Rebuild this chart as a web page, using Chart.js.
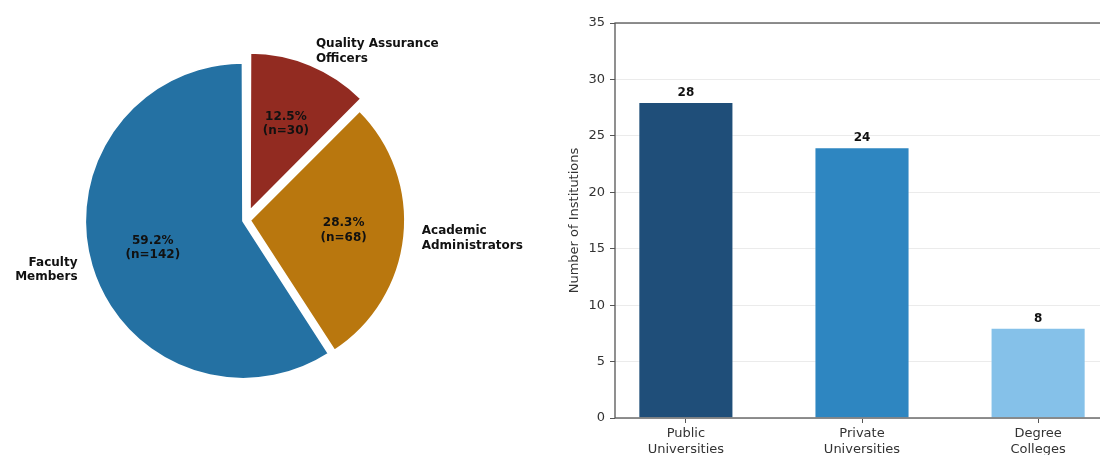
<!DOCTYPE html>
<html>
<head>
<meta charset="utf-8">
<title>Respondents and institutions</title>
<script src="https://cdn.jsdelivr.net/npm/chart.js"></script>
<style>
  html, body { margin: 0; padding: 0; background: #fff; overflow: hidden; }
  body { width: 1100px; height: 455px; position: relative; }
  #pieChart { position: absolute; left: 0; top: 0; }
  #barChart { position: absolute; left: 563px; top: 0; }
</style>
</head>
<body>
<canvas id="pieChart" width="560" height="440"></canvas>
<canvas id="barChart" width="557" height="455"></canvas>
<script>
// respondents, listed clockwise from 12 o'clock
const roleLabels = [['Quality Assurance', 'Officers'], ['Academic', 'Administrators'], ['Faculty', 'Members']];
const roleCounts = [30, 68, 142];

// institutions taking part
const institutionLabels = [['Public', 'Universities'], ['Private', 'Universities'], ['Degree', 'Colleges']];
const institutionCounts = [28, 24, 8];

const FONT = '"DejaVu Sans", "Liberation Sans", sans-serif';

function drawLines(ctx, lines, x, y, lineHeight) {
  const top = y - (lines.length - 1) * lineHeight / 2;
  lines.forEach((line, i) => ctx.fillText(line, x, top + i * lineHeight));
}

// percentage inside each wedge, role name outside it
const pieLabels = {
  id: 'pieLabels',
  afterDatasetsDraw(chart) {
    const ctx = chart.ctx;
    const meta = chart.getDatasetMeta(0);
    const total = roleCounts.reduce((a, b) => a + b, 0);
    ctx.save();
    ctx.font = 'bold 12px ' + FONT;
    ctx.fillStyle = '#111';
    ctx.textBaseline = 'middle';
    meta.data.forEach((arc, i) => {
      const p = arc.getProps(['x', 'y', 'startAngle', 'endAngle', 'outerRadius'], true);
      const mid = (p.startAngle + p.endAngle) / 2;
      const cos = Math.cos(mid);
      const sin = Math.sin(mid);
      const shift = (arc.options.offset || 0) / 4;
      const ox = p.x + cos * shift;
      const oy = p.y + sin * shift;
      const r = p.outerRadius + 2;

      const pct = (roleCounts[i] / total * 100).toFixed(1) + '%';
      ctx.textAlign = 'center';
      drawLines(ctx, [pct, '(n=' + roleCounts[i] + ')'], ox + cos * r * 0.6, oy + sin * r * 0.6, 14.4);

      ctx.textAlign = cos >= 0 ? 'left' : 'right';
      drawLines(ctx, roleLabels[i], ox + cos * r * 1.1, oy + sin * r * 1.1, 14.4);
    });
    ctx.restore();
  }
};

var pieCtx = document.getElementById('pieChart').getContext('2d');
var pieChart = new Chart(pieCtx, {
  type: 'pie',
  data: {
    labels: roleLabels.map(l => l.join(' ')),
    datasets: [{
      data: roleCounts,
      backgroundColor: ['#922b21', '#b9770e', '#2471a3'],
      borderColor: '#fff',
      borderWidth: 2,
      offset: [40, 16, 12],
      radius: 155,
    }]
  },
  options: {
    responsive: false,
    animation: false,
    // keep the pie centred in the left 492px, leave room for the labels
    layout: { padding: { left: 0, top: 0, bottom: 0, right: 68 } },
    plugins: {
      legend: { display: false },
      tooltip: { enabled: false }
    }
  },
  plugins: [pieLabels]
});

// full box round the plot, drawn over the bars like the axis spines
const axesFrame = {
  id: 'axesFrame',
  afterDatasetsDraw(chart) {
    const { ctx, chartArea: a } = chart;
    ctx.save();
    ctx.strokeStyle = '#555';
    ctx.lineWidth = 1.3;
    ctx.strokeRect(a.left, a.top, a.right - a.left, a.bottom - a.top);
    ctx.restore();
  }
};

const barValues = {
  id: 'barValues',
  afterDatasetsDraw(chart) {
    const ctx = chart.ctx;
    ctx.save();
    ctx.font = 'bold 12px ' + FONT;
    ctx.fillStyle = '#111';
    ctx.textAlign = 'center';
    ctx.textBaseline = 'alphabetic';
    chart.getDatasetMeta(0).data.forEach((bar, i) => {
      ctx.fillText(String(institutionCounts[i]), bar.x, bar.y - 6);
    });
    ctx.restore();
  }
};

var barCtx = document.getElementById('barChart').getContext('2d');
var barChart = new Chart(barCtx, {
  type: 'bar',
  data: {
    datasets: [{
      data: institutionCounts.map((v, i) => ({ x: i, y: v })),
      backgroundColor: ['#1f4e79', '#2e86c1', '#85c1e9'],
      borderColor: 'rgba(255, 255, 255, 0.5)',
      borderWidth: 1,
      barPercentage: 0.54,
      categoryPercentage: 1,
    }]
  },
  options: {
    responsive: false,
    animation: false,
    layout: { padding: { top: 23, right: 11, left: 0, bottom: 0 } },
    plugins: {
      legend: { display: false },
      tooltip: { enabled: false }
    },
    scales: {
      x: {
        type: 'linear',
        offset: false,
        min: -0.4025,
        max: 2.4025,
        afterBuildTicks: (axis) => { axis.ticks = institutionLabels.map((l, i) => ({ value: i })); },
        afterFit: (axis) => { axis.height = 37; },
        border: { display: false },
        grid: { offset: false, drawOnChartArea: false, color: '#555', tickColor: '#555', tickLength: 5 },
        ticks: {
          callback: (value) => institutionLabels[value],
          autoSkip: false,
          maxRotation: 0,
          padding: 3,
          color: '#333',
          font: { family: FONT, size: 13 }
        }
      },
      y: {
        min: 0,
        max: 35,
        afterFit: (axis) => { axis.width = 52; },
        border: { display: false },
        grid: { color: '#ebebeb', tickColor: '#555', tickLength: 5 },
        ticks: {
          stepSize: 5,
          padding: 5,
          color: '#333',
          font: { family: FONT, size: 13 }
        },
        title: {
          display: true,
          text: 'Number of Institutions',
          color: '#333',
          padding: { top: 4, bottom: 0 },
          font: { family: FONT, size: 13 }
        }
      }
    }
  },
  plugins: [axesFrame, barValues]
});
</script>
</body>
</html>
